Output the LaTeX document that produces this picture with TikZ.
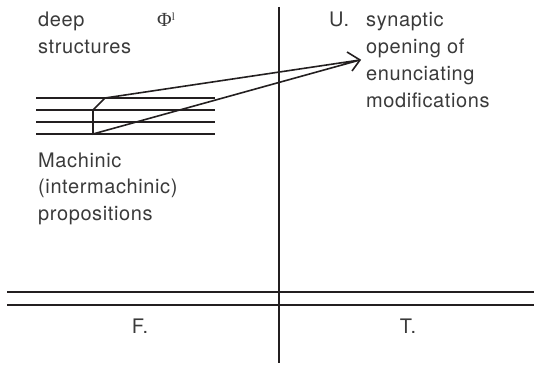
\documentclass[tikz,border=0pt]{standalone}
\usepackage{fontspec}
\setmainfont{TeX Gyre Heros}[LetterSpace=3]
\newfontfamily\phifont{Liberation Serif}
\definecolor{ink}{HTML}{231F20}
\definecolor{txt}{HTML}{3A3A3A}
\begin{document}
\begin{tikzpicture}[x=1pt,y=-1pt,
  lbl/.style={inner sep=0pt,anchor=base west,align=left,text=txt,font=\fontsize{20}{26.8}\selectfont},
  ctr/.style={inner sep=0pt,anchor=base,text=txt,font=\fontsize{20}{26.8}\selectfont},
  rule/.style={draw=ink,line width=1.8pt},
  thin/.style={draw=ink,line width=1.6pt}]
\useasboundingbox (0,0) rectangle (534,366);
% text (base anchor = baseline of last line)
\node[lbl] (deep) at (38,53.8) {deep\\structures};
\node[inner sep=0pt,anchor=base west,text=txt,font=\phifont\fontsize{20}{20}\selectfont] (phi) at (157,27) {Φ\raisebox{6pt}{\fontsize{11}{11}\selectfont l}};
\node[lbl] (U) at (329,27) {U.};
\node[lbl] (syn) at (366,107.4) {synaptic\\opening of\\enunciating\\modifications};
\node[lbl] (mach) at (38,220.6) {Machinic\\(intermachinic)\\propositions};
\node[ctr] (F) at (140,333) {F.};
\node[ctr] (T) at (408,333) {T.};
% axes
\coordinate (vt) at (279,7);
\coordinate (vb) at (279,363);
\coordinate (h1l) at (7,292);
\coordinate (h1r) at (534,292);
\coordinate (h2l) at (7,305);
\coordinate (h2r) at (534,305);
\draw[rule] (vt) -- (vb);
\draw[rule] (h1l) -- (h1r);
\draw[rule] (h2l) -- (h2r);
% stacked lines
\foreach \y in {98,110,122,134} {
  \draw[thin] (36,\y) -- (215,\y);
}
% connectors
\coordinate (p1) at (105,98);
\coordinate (p2) at (93,110);
\coordinate (p3) at (93,134);
\coordinate (tip) at (360,60);
\draw[thin,line join=miter] (tip) -- (p1) -- (p2) -- (p3) -- (tip);
\draw[thin,line join=miter] (tip) ++(-13,-8) -- (tip) -- ++(-8,11);
\end{tikzpicture}
\end{document}
